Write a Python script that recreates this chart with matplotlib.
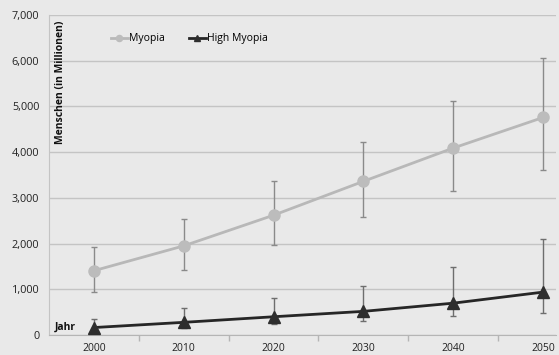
import matplotlib
matplotlib.use("Agg")
import matplotlib.pyplot as plt
from matplotlib.ticker import FuncFormatter, FixedLocator

years = ["2000", "2010", "2020", "2030", "2040", "2050"]
myopia = [1406, 1950, 2620, 3361, 4089, 4758]
myopia_low = [932, 1422, 1976, 2578, 3145, 3620]
myopia_high = [1932, 2543, 3366, 4217, 5128, 6056]
high_myopia = [163, 277, 399, 517, 696, 938]
high_myopia_low = [86, 153, 244, 317, 418, 479]
high_myopia_high = [358, 582, 799, 1072, 1497, 2100]

plt.rcParams["font.family"] = ["Open Sans", "DejaVu Sans"]

bg = "#e9e9e9"
fig = plt.figure(figsize=(5.59, 3.55), dpi=100, facecolor=bg)
ax = fig.add_axes([49 / 559, 1 - 335 / 355, (556 - 49) / 559, (335 - 15) / 355])
ax.set_facecolor(bg)

x = list(range(len(years)))


def err(vals, lo, hi):
    return [[v - l for v, l in zip(vals, lo)], [h - v for v, h in zip(vals, hi)]]


ax.errorbar(x, myopia, yerr=err(myopia, myopia_low, myopia_high), fmt="none",
            ecolor="#8a8a8a", elinewidth=1.0, capsize=2.2, capthick=1.0, zorder=3)
ax.errorbar(x, high_myopia, yerr=err(high_myopia, high_myopia_low, high_myopia_high),
            fmt="none", ecolor="#6e6e6e", elinewidth=1.0, capsize=2.2, capthick=1.0, zorder=3)

ax.plot(x, myopia, color="#b8b8b8", lw=2.0, marker="o", markersize=8,
        markerfacecolor="#bcbcbc", markeredgecolor="#bcbcbc", label="Myopia", zorder=4)
ax.plot(x, high_myopia, color="#262626", lw=2.0, marker="^", markersize=9,
        markerfacecolor="#2e2e2e", markeredgecolor="#2e2e2e", label="High Myopia", zorder=4)

ax.set_xlim(-0.5, 5.145)
ax.set_ylim(0, 7000)
ax.set_yticks(range(0, 7001, 1000))
ax.yaxis.set_major_formatter(FuncFormatter(lambda v, p: f"{int(v):,}"))
ax.grid(axis="y", color="#c4c4c4", lw=1.0)
ax.set_axisbelow(True)

ax.set_xticks(x)
ax.set_xticklabels(years)
ax.xaxis.set_minor_locator(FixedLocator([0.5, 1.5, 2.5, 3.5, 4.5]))
ax.tick_params(axis="x", which="major", length=0, pad=6, labelsize=7.5, colors="#222222")
ax.tick_params(axis="x", which="minor", length=4, width=1, color="#b5b5b5")
ax.tick_params(axis="y", length=0, pad=7, labelsize=7.8, colors="#222222")

for s in ["top", "right"]:
    ax.spines[s].set_visible(False)
ax.spines["left"].set_color("#c4c4c4")
ax.spines["bottom"].set_color("#b5b5b5")

leg = ax.legend(loc="center left", bbox_to_anchor=((111 - 49) / 507, 1 - (39 - 15) / 320),
                ncol=2, frameon=False, borderpad=0, borderaxespad=0,
                fontsize=7.5, handlelength=1.6, handletextpad=0.15, columnspacing=2.3,
                markerscale=0.55)

fig.text(61 / 559, 1 - 82 / 355, "Menschen (in Millionen)", rotation=90, ha="center",
         va="center", fontsize=7.5, fontweight="bold", color="#111111")
fig.text(55 / 559, 1 - 327 / 355, "Jahr", ha="left", va="center", fontsize=7.5,
         fontweight="bold", color="#111111")

fig.savefig("out.png", dpi=100, facecolor=bg)
